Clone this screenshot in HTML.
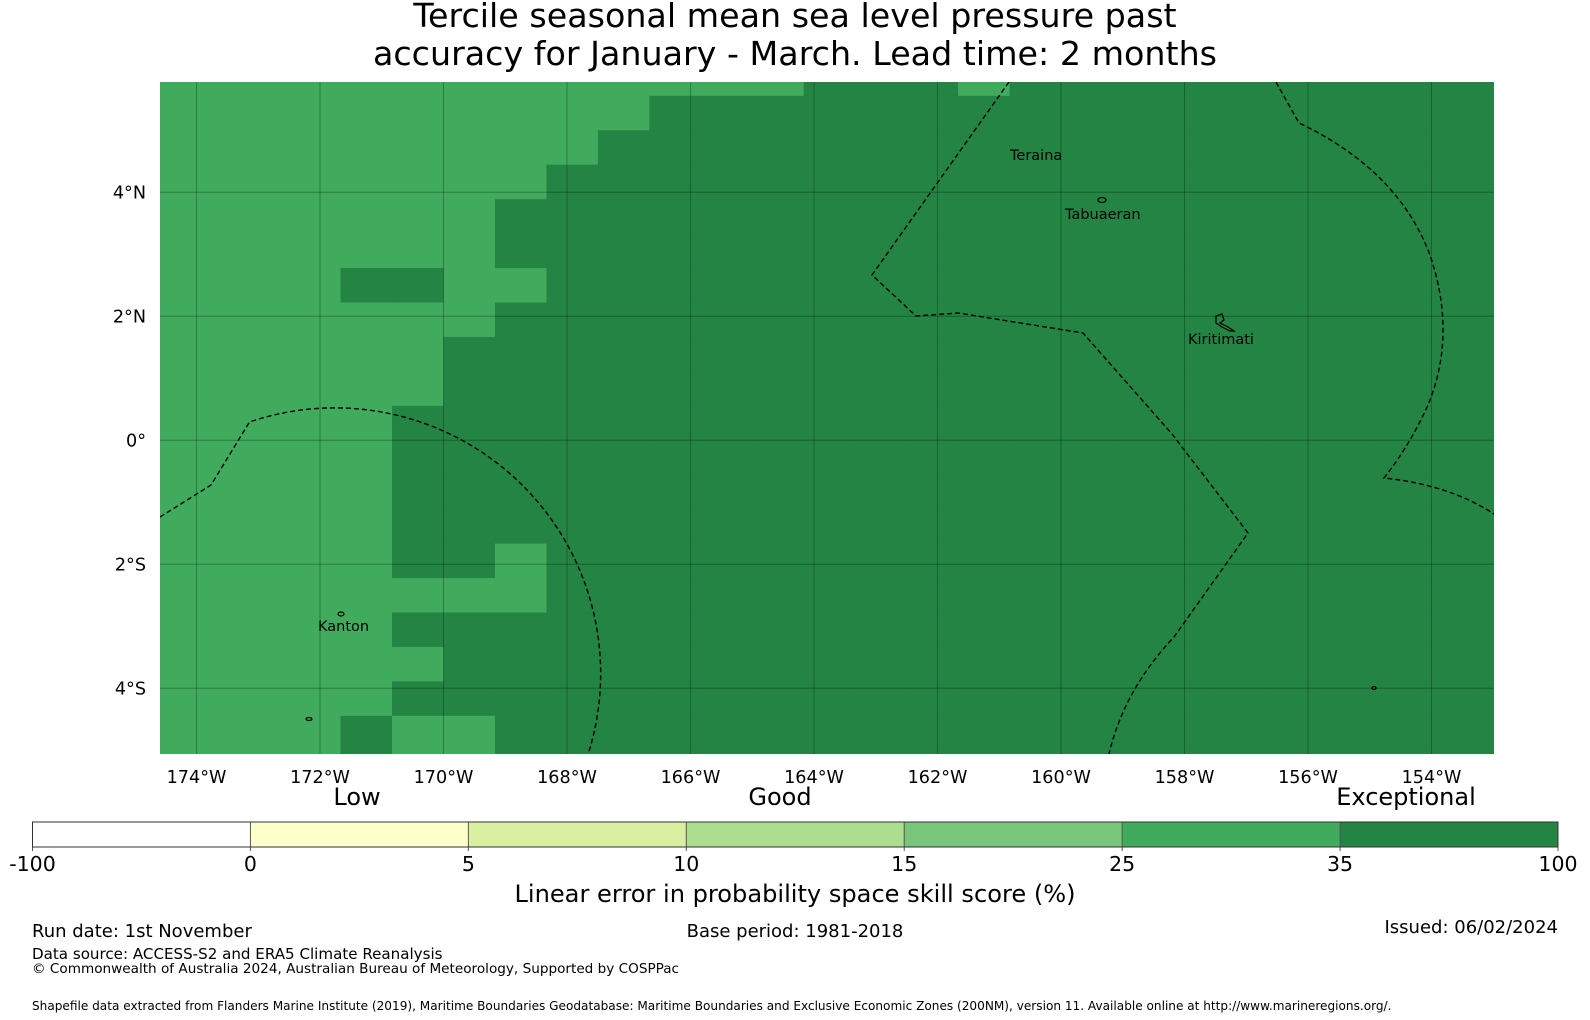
<!DOCTYPE html>
<html><head><meta charset="utf-8">
<style>
html,body{margin:0;padding:0;background:#fff;}
body{width:1590px;height:1020px;position:relative;overflow:hidden;font-family:"DejaVu Sans","Liberation Sans",sans-serif;color:#000;}
.t{position:absolute;white-space:nowrap;}
</style></head>
<body>
<div class="t" style="left:0;width:1590px;top:-3px;text-align:center;font-size:33.3px;line-height:37.5px;">Tercile seasonal mean sea level pressure past<br>accuracy for January - March. Lead time: 2 months</div>
<svg id="chart" width="1590" height="1020" style="position:absolute;left:0;top:0;" xmlns="http://www.w3.org/2000/svg">
<defs><clipPath id="mapclip"><rect x="160" y="82" width="1334" height="672"/></clipPath></defs>
<g id="cells" clip-path="url(#mapclip)"></g>
<g id="grid" clip-path="url(#mapclip)"></g>
<g id="eez" clip-path="url(#mapclip)" fill="none" stroke="#000" stroke-width="1.4" stroke-dasharray="5,3">
<path d="M160,517 L211,485 L249.5,422 A265.7,265.7 0 0 1 588,754.6"/>
<path d="M1009,82 L872,275 L916,316 L958,313 L1083,333 L1172,434 L1248,533 L1174,637 Q1124,690 1109,754"/>
<path d="M1276,82 L1299,123 Q1398,170 1430,255 Q1457,335 1428,405 Q1410,445 1384,478 Q1450,485 1494,514"/>
</g>
<g id="islands" fill="none" stroke="#000" stroke-width="1.2">
<ellipse cx="341" cy="614" rx="3" ry="2"/>
<ellipse cx="1102" cy="200" rx="4" ry="2.5"/>
<path d="M1216,316 l6,-2 l2,6 l-4,3 l8,4 l6,4 l-4,0 l-8,-4 l-6,-4 z"/>
<ellipse cx="309" cy="719" rx="3" ry="1.5"/>
<ellipse cx="1374" cy="688" rx="2" ry="1.5"/>
</g>
<g font-size="14.5" font-family="DejaVu Sans, Liberation Sans, sans-serif">
<text x="1010" y="160">Teraina</text>
<text x="1065" y="219">Tabuaeran</text>
<text x="1188" y="344">Kiritimati</text>
<text x="318" y="631">Kanton</text>
</g>
<g id="ticks" font-size="17.6" font-family="DejaVu Sans, Liberation Sans, sans-serif"></g>
<g id="cbar"></g>
</svg>
<div class="t" style="left:357px;top:783px;transform:translateX(-50%);font-size:24px;">Low</div>
<div class="t" style="left:780px;top:783px;transform:translateX(-50%);font-size:24px;">Good</div>
<div class="t" style="left:1406px;top:783px;transform:translateX(-50%);font-size:24px;">Exceptional</div>
<div class="t" style="left:0;width:1590px;text-align:center;top:880px;font-size:24.1px;">Linear error in probability space skill score (%)</div>
<div class="t" style="left:32px;top:921px;font-size:18px;">Run date: 1st November</div>
<div class="t" style="left:0;width:1590px;text-align:center;top:921px;font-size:18px;">Base period: 1981-2018</div>
<div class="t" style="right:32px;top:917px;font-size:18px;">Issued: 06/02/2024</div>
<div class="t" style="left:32px;top:945px;font-size:15.1px;">Data source: ACCESS-S2 and ERA5 Climate Reanalysis</div>
<div class="t" style="left:32px;top:961px;font-size:13.6px;">© Commonwealth of Australia 2024, Australian Bureau of Meteorology, Supported by COSPPac</div>
<div class="t" style="left:32px;top:999px;font-size:12.1px;">Shapefile data extracted from Flanders Marine Institute (2019), Maritime Boundaries Geodatabase: Maritime Boundaries and Exclusive Economic Zones (200NM), version 11. Available online at http://www.marineregions.org/.</div>
<script>
const cellLon0 = -175, cellLonStep = 5/6;
const cellLat0 = 55/9, cellLatStep = 5/9;
// L = 25-35 skill, D = 35-100 skill
const cellRows = [
"LLLLLLLLLLLLLDDDLDDDDDDDDDD",
"LLLLLLLLLLDDDDDDDDDDDDDDDDD",
"LLLLLLLLLDDDDDDDDDDDDDDDDDD",
"LLLLLLLLDDDDDDDDDDDDDDDDDDD",
"LLLLLLLDDDDDDDDDDDDDDDDDDDD",
"LLLLLLLDDDDDDDDDDDDDDDDDDDD",
"LLLLDDLLDDDDDDDDDDDDDDDDDDD",
"LLLLLLLDDDDDDDDDDDDDDDDDDDD",
"LLLLLLDDDDDDDDDDDDDDDDDDDDD",
"LLLLLLDDDDDDDDDDDDDDDDDDDDD",
"LLLLLDDDDDDDDDDDDDDDDDDDDDD",
"LLLLLDDDDDDDDDDDDDDDDDDDDDD",
"LLLLLDDDDDDDDDDDDDDDDDDDDDD",
"LLLLLDDDDDDDDDDDDDDDDDDDDDD",
"LLLLLDDLDDDDDDDDDDDDDDDDDDD",
"LLLLLLLLDDDDDDDDDDDDDDDDDDD",
"LLLLLDDDDDDDDDDDDDDDDDDDDDD",
"LLLLLLDDDDDDDDDDDDDDDDDDDDD",
"LLLLLDDDDDDDDDDDDDDDDDDDDDD",
"LLLLDLLDDDDDDDDDDDDDDDDDDDD",
"LLLLDLLDDDDDDDDDDDDDDDDDDDD"
];
const lonTicks = [-174,-172,-170,-168,-166,-164,-162,-160,-158,-156,-154];
const latTicks = [4,2,0,-2,-4];
const latTickLabels = ["4°N","2°N","0°","2°S","4°S"];
const cbBounds = [-100,0,5,10,15,25,35,100];
const cbColors = ["#ffffff","#ffffcc","#d9f0a3","#addd8e","#78c679","#41ab5d","#238443"];
const classColors = {L:"#41ab5d", D:"#238443"};

const NS="http://www.w3.org/2000/svg";
const X = lon => 196.5 + (lon + 174) * 61.75;
const Y = lat => 440.3 - lat * 62;
function mk(tag, attrs, parent){const e=document.createElementNS(NS,tag);for(const k in attrs)e.setAttribute(k,attrs[k]);parent.appendChild(e);return e;}

const cells=document.getElementById('cells');
cellRows.forEach((row,r)=>{
  for(let i=0;i<row.length;i++){
    const x0=X(cellLon0+i*cellLonStep), x1=X(cellLon0+(i+1)*cellLonStep);
    const y0=Y(cellLat0-r*cellLatStep), y1=Y(cellLat0-(r+1)*cellLatStep);
    const el=mk('rect',{x:x0,y:y0,width:x1-x0+0.6,height:y1-y0+0.6,fill:classColors[row[i]]},cells);
    
    
  }
});
const grid=document.getElementById('grid');
const ticks=document.getElementById('ticks');
lonTicks.forEach(lon=>{
  const x=X(lon);
  const l=mk('line',{x1:x,x2:x,y1:82,y2:754,stroke:'rgba(0,0,0,0.28)','stroke-width':1},grid);
  
  
  const t=mk('text',{x:x,y:783,'text-anchor':'middle'},ticks);
  t.textContent=Math.abs(lon)+'°W';
  
  
});
latTicks.forEach((lat,i)=>{
  const y=Y(lat);
  const l=mk('line',{x1:160,x2:1494,y1:y,y2:y,stroke:'rgba(0,0,0,0.28)','stroke-width':1},grid);
  
  
  const t=mk('text',{x:146,y:y+6,'text-anchor':'end'},ticks);
  t.textContent=latTickLabels[i];
  
  
});
const cb=document.getElementById('cbar');
const cbL=32.5, cbR=1558, cbT=822, cbB=847;
const segW=(cbR-cbL)/cbColors.length;
cbColors.forEach((c,i)=>{
  const r=mk('rect',{x:cbL+i*segW,y:cbT,width:segW,height:cbB-cbT,fill:c},cb);
  
  
});
cbBounds.forEach((b,i)=>{
  const x=cbL+i*segW;
  const l=mk('line',{x1:x,x2:x,y1:cbT,y2:cbB+4,stroke:'#555','stroke-width':1},cb);
  
  
  const t=mk('text',{x:x,y:cbB+24,'text-anchor':'middle','font-size':20.5,'font-family':'DejaVu Sans, Liberation Sans, sans-serif'},cb);
  t.textContent=String(b);
  
  
});
const fr=mk('rect',{x:cbL,y:cbT,width:cbR-cbL,height:cbB-cbT,fill:'none',stroke:'#333','stroke-width':1},cb);


</script>
</body></html>
